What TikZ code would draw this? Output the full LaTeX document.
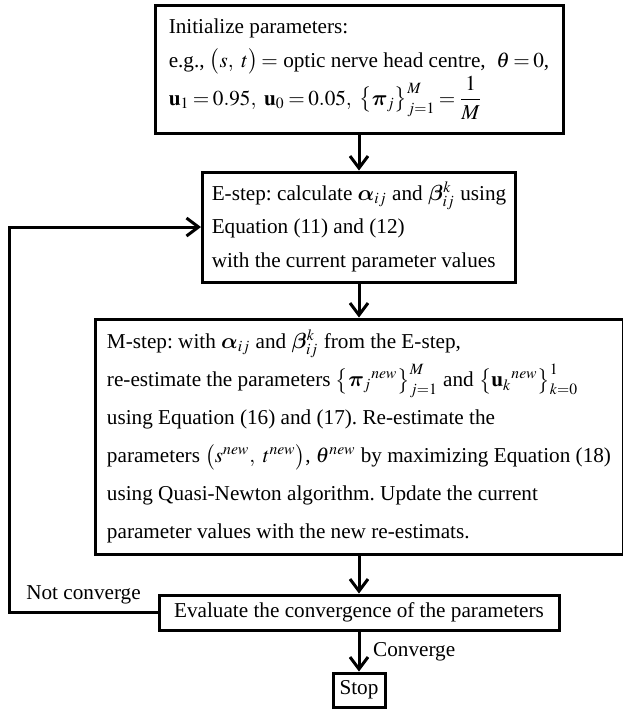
\documentclass[tikz,border=0pt]{standalone}
\usepackage{amsmath,bm}
\usepackage{mathptmx}
\usepackage[no-math]{fontspec}
\setmainfont{Liberation Serif}
\usetikzlibrary{arrows.meta}
\frenchspacing
\thickmuskip=3mu plus 2mu
\medmuskip=2mu plus 1mu
\tikzset{
    stepbox/.style={draw, line width=1.5pt, align=left, inner xsep=3pt, inner ysep=2pt,
        font=\fontsize{10.6}{17}\selectfont},
    flow/.style={line width=1.5pt, -{Straight Barb[length=6pt,width=9pt]}},
    lbl/.style={font=\fontsize{10.6}{13}\selectfont},
}

\begin{document}
\begin{tikzpicture}[x=0.5pt, y=-0.5pt]
\useasboundingbox (0,0) rectangle (623,709);

\node[stepbox, minimum width=204pt, minimum height=64pt] (init) at (359,69)
    {Initialize parameters:\\
     e.g., $\bigl(s,\ t\bigr) =$ optic nerve head centre, $\ \theta = 0$,\\
     $\mathbf{u}_1 = 0.95,\ \mathbf{u}_0 = 0.05,\ \bigl\{\bm{\pi}_j\bigr\}_{j=1}^{M} = \dfrac{1}{M}$};
\node[stepbox, minimum width=156.5pt, minimum height=55pt] (estep) at (359,227)
    {E-step: calculate $\bm{\alpha}_{ij}$ and $\bm{\beta}_{ij}^{k}$ using\\
     Equation (11) and (12)\\
     with the current parameter values};
\node[stepbox, minimum width=264pt, minimum height=117.5pt,
      font=\fontsize{10.6}{19}\selectfont] (mstep) at (359,436.5)
    {M-step: with $\bm{\alpha}_{ij}$ and $\bm{\beta}_{ij}^{k}$ from the E-step,\\
     re-estimate the parameters $\bigl\{{\bm{\pi}_j}^{new}\bigr\}_{j=1}^{M}$ and $\bigl\{{\mathbf{u}_k}^{new}\bigr\}_{k=0}^{1}$\\
     using Equation (16) and (17). Re-estimate the\\
     parameters $\bigl(s^{new},\ t^{new}\bigr)$, $\theta^{new}$ by maximizing Equation (18)\\
     using Quasi-Newton algorithm. Update the current\\
     parameter values with the new re-estimats.};
\node[stepbox, minimum width=200pt, minimum height=17.5pt] (eval) at (359,612.5)
    {Evaluate the convergence of the parameters};
\node[stepbox, minimum width=26pt, minimum height=17pt, inner xsep=2pt] (stop) at (359,690) {Stop};

\draw[flow] (init) -- (estep);
\draw[flow] (estep) -- (mstep);
\draw[flow] (mstep) -- (eval);
\draw[flow] (eval) -- node[lbl, right, xshift=3pt] (conv) {Converge} (stop);
\draw[flow] (eval.west) -- node[lbl, above] (notconv) {Not converge} ++(-148,0) |- (estep.west);
\end{tikzpicture}
\end{document}
